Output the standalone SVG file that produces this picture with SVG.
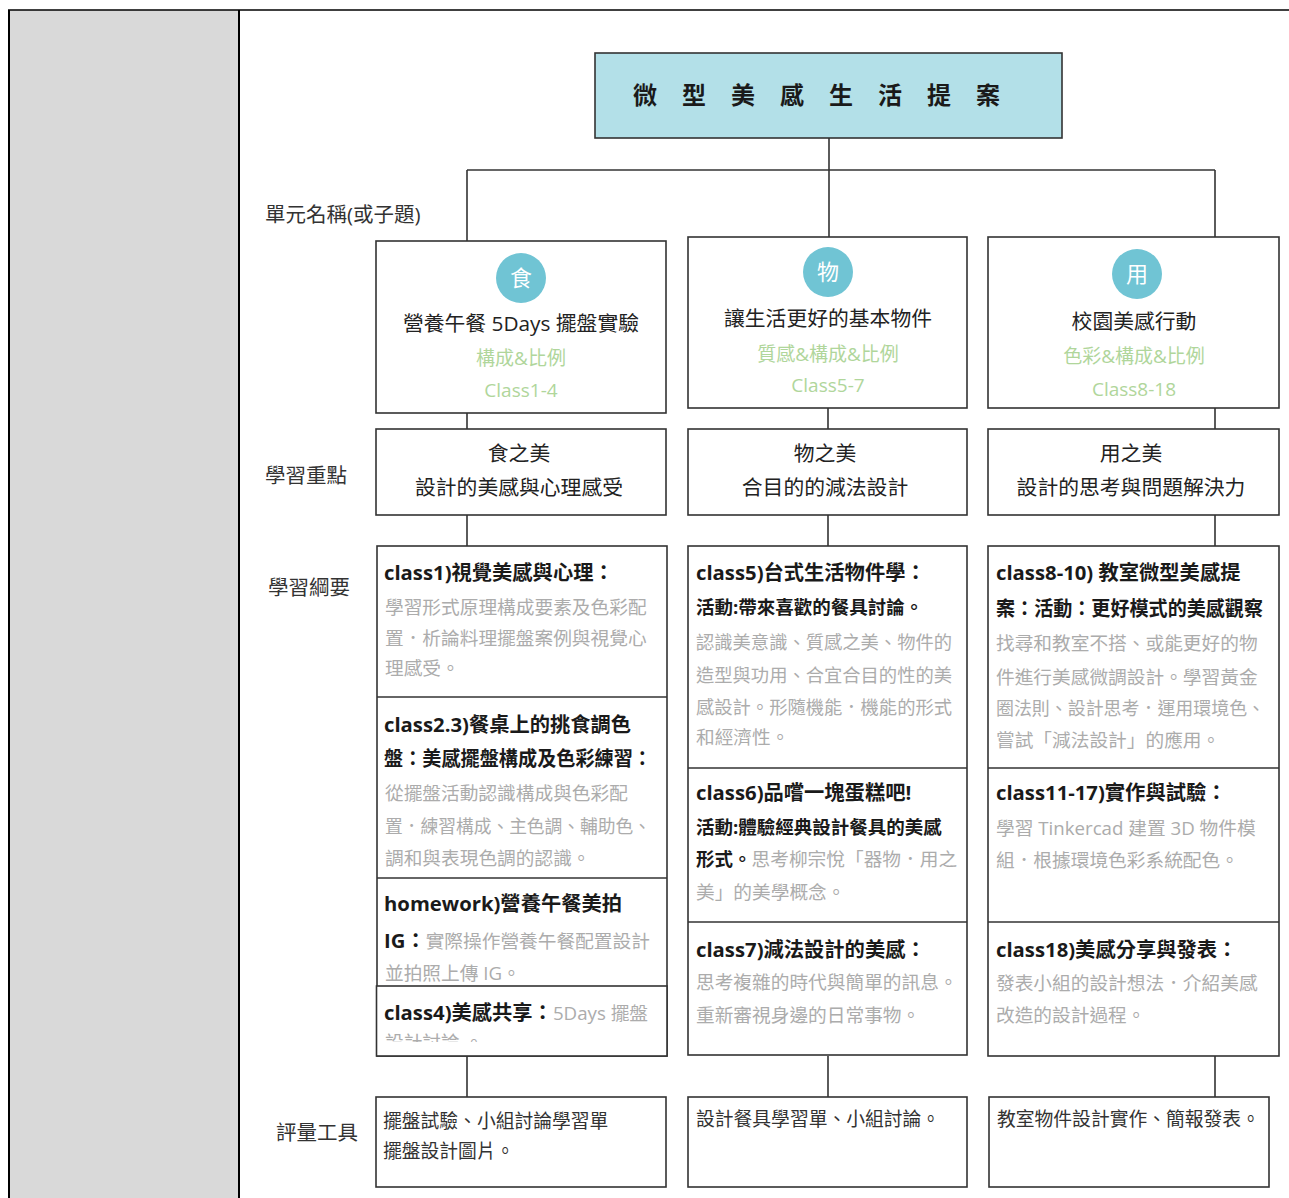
<svg xmlns="http://www.w3.org/2000/svg" width="1289" height="1198" viewBox="0 0 1289 1198">
<defs>
<style>
.t{font-family:"Open Sans","Noto Sans CJK TC",sans-serif}
.box{fill:#fff;stroke:#333;stroke-width:1.6}
.ln{stroke:#333;stroke-width:1.6;fill:none}
.lbl{font-size:20.5px;fill:#333}
.hd{font-size:20.8px;fill:#222;text-anchor:middle}
.gr{font-size:19px;fill:#b0d69b;text-anchor:middle}
.ic{font-size:22px;fill:#fff;text-anchor:middle}
.b{font-size:20.3px;font-weight:bold;fill:#1a1a1a}
.bs{font-size:18.5px;font-weight:bold;fill:#1a1a1a}
.g{font-size:18.7px;fill:#acacac}
.ev{font-size:18.8px;fill:#333}
</style>
<clipPath id="cHw"><rect x="377" y="879" width="290" height="105"/></clipPath>
<clipPath id="cC4"><rect x="377" y="987" width="290" height="55"/></clipPath>
</defs>
<rect x="0" y="0" width="1289" height="1198" fill="#fff"/>
<g id="frame">
<rect x="9" y="10" width="230" height="1190" fill="#d9d9d9"/>
<line x1="9" y1="10" x2="9" y2="1198" stroke="#000" stroke-width="2"/>
<line x1="8" y1="10" x2="1289" y2="10" stroke="#000" stroke-width="1.6"/>
<line x1="239" y1="10" x2="239" y2="1198" stroke="#000" stroke-width="2"/>
</g>
<g id="labels" class="t">
<text class="lbl" x="265" y="222">單元名稱(或子題)</text>
<text class="lbl" x="265" y="483">學習重點</text>
<text class="lbl" x="268" y="595">學習綱要</text>
<text class="lbl" x="276" y="1140">評量工具</text>
</g>
<g id="connectors">
<line class="ln" x1="829" y1="138" x2="829" y2="237"/>
<line class="ln" x1="467" y1="170" x2="1215" y2="170"/>
<line class="ln" x1="467" y1="170" x2="467" y2="241"/>
<line class="ln" x1="1215" y1="170" x2="1215" y2="237"/>
<line class="ln" x1="467" y1="413" x2="467" y2="429"/>
<line class="ln" x1="828" y1="408" x2="828" y2="429"/>
<line class="ln" x1="1215" y1="408" x2="1215" y2="429"/>
<line class="ln" x1="467" y1="515" x2="467" y2="546"/>
<line class="ln" x1="828" y1="515" x2="828" y2="546"/>
<line class="ln" x1="1215" y1="515" x2="1215" y2="546"/>
<line class="ln" x1="467" y1="1056" x2="467" y2="1097"/>
<line class="ln" x1="828" y1="1056" x2="828" y2="1097"/>
<line class="ln" x1="1215" y1="1056" x2="1215" y2="1097"/>
</g>
<g id="title" class="t">
<rect x="595" y="53" width="467" height="85" fill="#b3e0e8" stroke="#333" stroke-width="1.6"/>
<text x="633" y="104" font-size="24" font-weight="bold" fill="#1a1a1a" letter-spacing="25">微型美感生活提案</text>
</g>
<g id="unit1" class="t">
<rect class="box" x="376" y="241" width="290" height="172"/>
<circle cx="521" cy="278" r="25" fill="#70c4d4"/>
<text class="ic" x="521" y="286">食</text>
<text class="hd" x="521" y="331">營養午餐 5Days 擺盤實驗</text>
<text class="gr" x="521" y="365">構成&amp;比例</text>
<text class="gr" x="521" y="397">Class1-4</text>
</g>
<g id="unit2" class="t">
<rect class="box" x="688" y="237" width="279" height="171"/>
<circle cx="828" cy="272" r="25" fill="#70c4d4"/>
<text class="ic" x="828" y="280">物</text>
<text class="hd" x="828" y="326">讓生活更好的基本物件</text>
<text class="gr" x="828" y="361">質感&amp;構成&amp;比例</text>
<text class="gr" x="828" y="392">Class5-7</text>
</g>
<g id="unit3" class="t">
<rect class="box" x="988" y="237" width="291" height="171"/>
<circle cx="1137" cy="274" r="25" fill="#70c4d4"/>
<text class="ic" x="1137" y="282">用</text>
<text class="hd" x="1134" y="329">校園美感行動</text>
<text class="gr" x="1134" y="363">色彩&amp;構成&amp;比例</text>
<text class="gr" x="1134" y="396">Class8-18</text>
</g>
<g id="focus1" class="t">
<rect class="box" x="376" y="429" width="290" height="86"/>
<text class="hd" x="519" y="461">食之美</text>
<text class="hd" x="519" y="495">設計的美感與心理感受</text>
</g>
<g id="focus2" class="t">
<rect class="box" x="688" y="429" width="279" height="86"/>
<text class="hd" x="825" y="461">物之美</text>
<text class="hd" x="825" y="495">合目的的減法設計</text>
</g>
<g id="focus3" class="t">
<rect class="box" x="988" y="429" width="291" height="86"/>
<text class="hd" x="1131" y="461">用之美</text>
<text class="hd" x="1131" y="495">設計的思考與問題解決力</text>
</g>
<g id="outline1" class="t">
<rect class="box" x="377" y="546" width="290" height="510"/>
<line class="ln" x1="377" y1="697" x2="667" y2="697"/>
<line class="ln" x1="377" y1="878" x2="667" y2="878"/>
<text class="b" x="384" y="580">class1)視覺美感與心理：</text>
<text class="g" x="385" y="613.5">學習形式原理構成要素及色彩配</text>
<text class="g" x="385" y="645">置．析論料理擺盤案例與視覺心</text>
<text class="g" x="385" y="675">理感受。</text>
<text class="b" x="384" y="732">class2.3)餐桌上的挑食調色</text>
<text class="b" x="384" y="766" textLength="268" lengthAdjust="spacingAndGlyphs">盤：美感擺盤構成及色彩練習：</text>
<text class="g" x="385" y="800">從擺盤活動認識構成與色彩配</text>
<text class="g" x="385" y="833" textLength="266" lengthAdjust="spacingAndGlyphs">置．練習構成、主色調、輔助色、</text>
<text class="g" x="385" y="865">調和與表現色調的認識。</text>
<text class="b" x="384" y="911">homework)營養午餐美拍</text>
<text x="384" y="948"><tspan class="b">IG：</tspan><tspan class="g">實際操作營養午餐配置設計</tspan></text>
<text class="g" x="385" y="980" clip-path="url(#cHw)">並拍照上傳 IG。</text>
<rect class="box" x="376.5" y="986" width="290.5" height="70"/>
<text x="384" y="1020"><tspan class="b">class4)美感共享：</tspan><tspan class="g">5Days 擺盤</tspan></text>
<text class="g" x="385" y="1049" clip-path="url(#cC4)">設計討論 。</text>
</g>
<g id="outline2" class="t">
<rect class="box" x="688" y="546" width="279" height="509"/>
<line class="ln" x1="688" y1="768" x2="967" y2="768"/>
<line class="ln" x1="688" y1="922" x2="967" y2="922"/>
<text class="b" x="696" y="580">class5)台式生活物件學：</text>
<text class="bs" x="696" y="614">活動:帶來喜歡的餐具討論。</text>
<text class="g" x="696" y="648.5" textLength="256" lengthAdjust="spacingAndGlyphs">認識美意識、質感之美、物件的</text>
<text class="g" x="696" y="681.5" textLength="256" lengthAdjust="spacingAndGlyphs">造型與功用、合宜合目的性的美</text>
<text class="g" x="696" y="713.5" textLength="256" lengthAdjust="spacingAndGlyphs">感設計。形隨機能．機能的形式</text>
<text class="g" x="696" y="743.5">和經濟性。</text>
<text class="b" x="696" y="800">class6)品嚐一塊蛋糕吧!</text>
<text class="bs" x="696" y="834">活動:體驗經典設計餐具的美感</text>
<text x="696" y="866"><tspan class="bs">形式。</tspan><tspan class="g">思考柳宗悅「器物．用之</tspan></text>
<text class="g" x="696" y="898.5">美」的美學概念。</text>
<text class="b" x="696" y="957">class7)減法設計的美感：</text>
<text class="g" x="696" y="988.5">思考複雜的時代與簡單的訊息。</text>
<text class="g" x="696" y="1021.5">重新審視身邊的日常事物。</text>
</g>
<g id="outline3" class="t">
<rect class="box" x="988" y="546" width="291" height="510"/>
<line class="ln" x1="988" y1="768" x2="1279" y2="768"/>
<line class="ln" x1="988" y1="922" x2="1279" y2="922"/>
<text class="b" x="996" y="580">class8-10) 教室微型美感提</text>
<text class="b" x="996" y="616" textLength="267" lengthAdjust="spacingAndGlyphs">案：活動：更好模式的美感觀察</text>
<text class="g" x="996" y="649.5">找尋和教室不搭、或能更好的物</text>
<text class="g" x="996" y="683.5">件進行美感微調設計。學習黃金</text>
<text class="g" x="996" y="714.5" textLength="269" lengthAdjust="spacingAndGlyphs">圈法則、設計思考．運用環境色、</text>
<text class="g" x="996" y="746.5">嘗試「減法設計」的應用。</text>
<text class="b" x="996" y="800">class11-17)實作與試驗：</text>
<text class="g" x="996" y="834.5">學習 Tinkercad 建置 3D 物件模</text>
<text class="g" x="996" y="866.5">組．根據環境色彩系統配色。</text>
<text class="b" x="996" y="957">class18)美感分享與發表：</text>
<text class="g" x="996" y="989.5">發表小組的設計想法．介紹美感</text>
<text class="g" x="996" y="1021.5">改造的設計過程。</text>
</g>
<g id="eval1" class="t">
<rect class="box" x="376" y="1097" width="290" height="90"/>
<text class="ev" x="383" y="1128">擺盤試驗、小組討論學習單</text>
<text class="ev" x="383" y="1158">擺盤設計圖片。</text>
</g>
<g id="eval2" class="t">
<rect class="box" x="688" y="1097" width="279" height="90"/>
<text class="ev" x="696" y="1126">設計餐具學習單、小組討論。</text>
</g>
<g id="eval3" class="t">
<rect class="box" x="989" y="1097" width="280" height="90"/>
<text class="ev" x="997" y="1126">教室物件設計實作、簡報發表。</text>
</g>
</svg>
